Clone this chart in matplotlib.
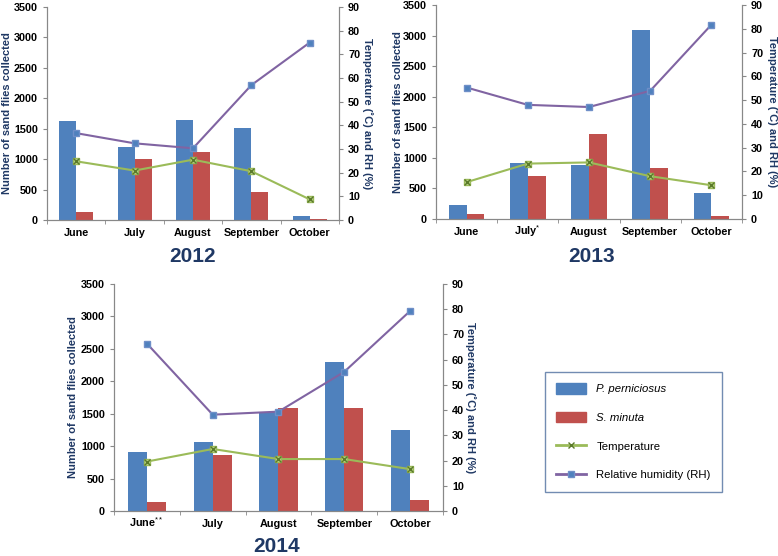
import numpy as np
import matplotlib; matplotlib.use("Agg"); import matplotlib.pyplot as plt
from matplotlib.lines import Line2D
from matplotlib.patches import Patch
plt.rcParams.update({"font.family": ["Liberation Sans", "DejaVu Sans"], "font.size": 7,
                     "mathtext.fontset": "custom", "mathtext.rm": "Liberation Sans",
                     "mathtext.bf": "Liberation Sans:bold"})

months = ["June", "July", "August", "September", "October"]
labels_2013 = ["June", "July$^{*}$", "August", "September", "October"]
labels_2014 = ["June$^{**}$", "July", "August", "September", "October"]

perniciosus_2012 = [1625, 1197, 1640, 1514, 66]
minuta_2012 = [137, 1009, 1114, 466, 11]
temp_2012 = [24.8, 20.9, 25.5, 20.6, 8.7]
rh_2012 = [36.7, 32.4, 30.3, 57.0, 75.0]

perniciosus_2013 = [234, 914, 876, 3097, 430]
minuta_2013 = [82, 708, 1393, 833, 44]
temp_2013 = [15.5, 23.3, 23.8, 18.0, 14.2]
rh_2013 = [55.3, 48.0, 47.1, 53.9, 81.7]

perniciosus_2014 = [915, 1059, 1532, 2303, 1244]
minuta_2014 = [134, 869, 1583, 1583, 175]
temp_2014 = [19.6, 24.6, 20.6, 20.6, 16.6]
rh_2014 = [66.4, 38.2, 39.4, 55.2, 79.3]

BLUE = "#4F81BD"; RED = "#C0504D"; GREEN = "#9BBB59"; PURPLE = "#8064A2"
NAVY = "#1F3864"; GRAY = "#888888"

fig = plt.figure(figsize=(7.78, 5.56), dpi=100)

def panel(rect, xlabels, blue, red, temp, rh, year, tpos, lx, rx):
    ax = fig.add_axes(rect)
    x = np.arange(len(xlabels)); w = 0.29
    ax.bar(x - w/2, blue, w, color=BLUE, zorder=2)
    ax.bar(x + w/2, red, w, color=RED, zorder=2)
    ax.set_ylim(0, 3500); ax.set_yticks(np.arange(0, 3501, 500))
    ax.set_xlim(-0.5, len(xlabels) - 0.5)
    ax.set_xticks(x); ax.set_xticklabels(xlabels, fontweight="bold", fontsize=7.8, va="baseline")
    ax.set_xticks(np.arange(-0.5, len(xlabels)), minor=True)
    ax.tick_params(axis="x", which="major", length=0, pad=11.5)
    ax.tick_params(axis="x", which="minor", length=3, color=GRAY)
    ax.tick_params(axis="y", length=3, color=GRAY, labelsize=7.8)
    for t in ax.get_yticklabels(): t.set_fontweight("bold")
    ax.spines["top"].set_visible(False)
    for s in ["left", "bottom", "right"]: ax.spines[s].set_color(GRAY)
    ax.set_ylabel("Number of sand flies collected", color=NAVY, fontweight="bold", fontsize=8)
    ax.yaxis.set_label_coords(lx, 0.5)
    ax2 = ax.twinx()
    ax2.plot(x, temp, "-", color=GREEN, lw=1.5, marker="s", ms=5, mfc="#B8CF88", mec=GREEN, zorder=3)
    ax2.plot(x, temp, "none", marker="x", ms=4, mec="#5A7A2A", mew=1, zorder=4)
    ax2.plot(x, rh, "-", color=PURPLE, lw=1.5, marker="s", ms=5, mfc=BLUE, mec="#6F8FC8", zorder=3)
    ax2.set_ylim(0, 90); ax2.set_yticks(np.arange(0, 91, 10))
    ax2.tick_params(axis="y", length=3, color=GRAY, labelsize=7.8)
    for t in ax2.get_yticklabels(): t.set_fontweight("bold")
    ax2.spines["top"].set_visible(False)
    for s in ["left", "bottom", "right"]: ax2.spines[s].set_color(GRAY)
    ax2.set_ylabel("Temperature (\u02daC) and RH (%)", color=NAVY, fontweight="bold",
                   fontsize=8, rotation=270, va="center")
    ax2.yaxis.set_label_coords(rx, 0.5)
    fig.text(tpos[0], tpos[1], year, color=NAVY, fontweight="bold", fontsize=15, ha="center", va="center")
    return ax

panel([0.0604, 0.6043, 0.3753, 0.3831], months, perniciosus_2012, minuta_2012, temp_2012, rh_2012,
      "2012", (193/778, 1 - 257/556), -0.12, 1.096)
panel([0.5604, 0.6061, 0.3933, 0.3849], labels_2013, perniciosus_2013, minuta_2013, temp_2013, rh_2013,
      "2013", (592/778, 1 - 257/556), -0.108, 1.098)
panel([0.1465, 0.0809, 0.4229, 0.4083], labels_2014, perniciosus_2014, minuta_2014, temp_2014, rh_2014,
      "2014", (277/778, 1 - 547/556), -0.109, 1.082)

handles = [Patch(color=BLUE), Patch(color=RED),
           Line2D([], [], color=GREEN, lw=2, marker="x", ms=5, mec="#5A7A2A"),
           Line2D([], [], color=PURPLE, lw=2, marker="s", ms=5, mfc=BLUE, mec="#6F8FC8")]
names = ["P. perniciosus", "S. minuta", "Temperature", "Relative humidity (RH)"]
leg = fig.legend(handles, names, loc="upper left", bbox_to_anchor=(545/778, 1 - 372/556),
                 frameon=True, fancybox=False, edgecolor="#4F6F9F", fontsize=8.2,
                 labelspacing=1.55, handlelength=2.6, handleheight=1.0, borderpad=1.0,
                 handletextpad=0.9, borderaxespad=0)
leg.get_frame().set_linewidth(1.0)
for i, t in enumerate(leg.get_texts()):
    if i < 2: t.set_fontstyle("italic")

fig.savefig("out.png", dpi=100)
